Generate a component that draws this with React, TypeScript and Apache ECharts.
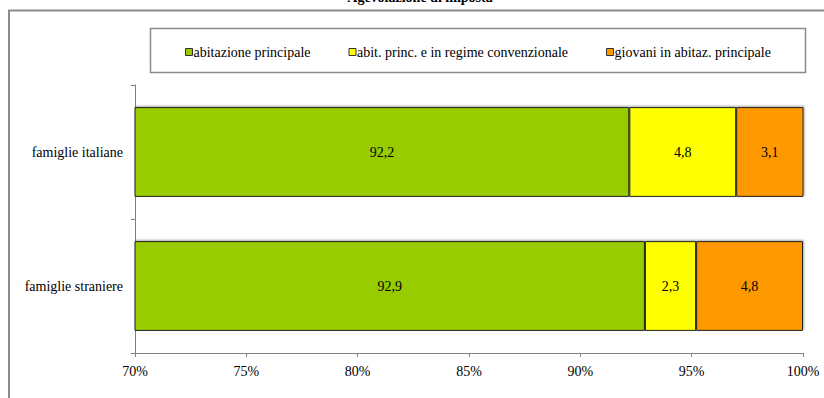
import React, { useEffect, useRef } from "react";
import * as echarts from "echarts";

const categories = ["famiglie italiane", "famiglie straniere"];
const seriesNames = [
  "abitazione principale",
  "abit. princ. e in regime convenzionale",
  "giovani in abitaz. principale",
];
const abitazionePrincipale = [92.2, 92.9];
const regimeConvenzionale = [4.8, 2.3];
const giovani = [3.1, 4.8];
const seriesColors = ["#99CC00", "#FFFF00", "#FF9900"];
const axisMin = 70;
const axisMax = 100;
const axisInterval = 5;
const titleText = "Agevolazione di imposta";

const FONT = "Liberation Serif";

export default function App() {
  const ref = useRef<HTMLDivElement>(null);
  useEffect(() => {
    if (!ref.current) return;
    const chart = echarts.init(ref.current, undefined, { renderer: "svg" });
    const values = [abitazionePrincipale, regimeConvenzionale, giovani];
    const fmt = (v: number) => v.toFixed(1).replace(".", ",");
    chart.setOption({
      animation: false,
      backgroundColor: "#ffffff",
      textStyle: { fontFamily: FONT },
      graphic: [
        {
          type: "rect",
          shape: { x: 9, y: 10.5, width: 840, height: 420 },
          style: { fill: "none", stroke: "#8c8c8c", lineWidth: 2 },
          z: 0,
        },
        {
          type: "rect",
          shape: { x: 150.5, y: 28.5, width: 655, height: 44 },
          style: { fill: "#fff", stroke: "#8c8c8c", lineWidth: 1.5 },
          z: 1,
        },
        {
          type: "text",
          x: 420,
          y: -3,
          style: {
            text: titleText,
            fontFamily: FONT,
            fontSize: 14,
            fontWeight: "bold",
            fill: "#000",
            align: "center",
            verticalAlign: "middle",
          },
          z: 5,
        },
      ],
      legend: {
        left: 180,
        top: 40,
        itemWidth: 7,
        itemHeight: 7,
        itemGap: 38,
        icon: "rect",
        z: 10,
        textStyle: { fontFamily: FONT, fontSize: 14, color: "#000", padding: [0, 0, 0, -4] },
        itemStyle: { borderColor: "#333", borderWidth: 1 },
        data: seriesNames,
      },
      grid: { left: 135, right: 21, top: 85, bottom: 45 },
      xAxis: {
        type: "value",
        min: axisMin,
        max: axisMax,
        interval: axisInterval,
        axisLine: { show: true, lineStyle: { color: "#808080", width: 1 } },
        axisTick: { show: true, length: 4, lineStyle: { color: "#808080" } },
        splitLine: { show: false },
        axisLabel: {
          formatter: (v: number) => v + "%",
          fontFamily: FONT,
          fontSize: 14,
          color: "#000",
          margin: 11,
        },
      },
      yAxis: {
        type: "category",
        inverse: true,
        data: categories,
        axisLine: { show: true, lineStyle: { color: "#808080", width: 1 } },
        axisTick: { show: true, length: 4, alignWithLabel: false, lineStyle: { color: "#808080" } },
        axisLabel: { fontFamily: FONT, fontSize: 14, color: "#000", margin: 12 },
      },
      series: seriesNames.map((name, i) => ({
        name,
        type: "bar",
        stack: "tot",
        barWidth: "67%",
        clip: true,
        data: values[i],
        itemStyle: {
          color: seriesColors[i],
          borderColor: "#222",
          borderWidth: 1,
          shadowColor: "rgba(0,0,0,0.35)",
          shadowBlur: 2,
          shadowOffsetX: 1,
          shadowOffsetY: -1,
        },
        label: {
          show: true,
          position: "inside",
          formatter: (p: any) => fmt(p.value),
          fontFamily: FONT,
          fontSize: 14,
          color: "#000",
        },
      })),
    });
    return () => chart.dispose();
  }, []);
  return (
    <div
      ref={ref}
      style={{ position: "fixed", left: 0, top: 0, width: 824, height: 398 }}
    />
  );
}
